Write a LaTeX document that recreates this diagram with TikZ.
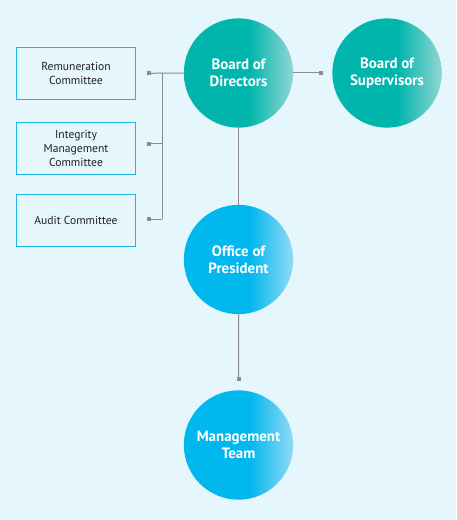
\documentclass[tikz,border=0pt]{standalone}
\usepackage{fontspec}
\setmainfont{PT Sans}
\definecolor{bgc}{HTML}{E6F6FD}
\definecolor{tealA}{HTML}{00B6AC}
\definecolor{tealB}{HTML}{92D6D3}
\definecolor{blueA}{HTML}{00B7EE}
\definecolor{blueB}{HTML}{92DAF6}
\definecolor{linec}{HTML}{8C8C8C}
\definecolor{boxc}{HTML}{1DB6EA}
\definecolor{txtc}{HTML}{231F20}
\pgfdeclarehorizontalshading{tealsh}{100bp}{color(0bp)=(tealA); color(55bp)=(tealA); color(75bp)=(tealB); color(100bp)=(tealB)}
\pgfdeclarehorizontalshading{bluesh}{100bp}{color(0bp)=(blueA); color(55bp)=(blueA); color(75bp)=(blueB); color(100bp)=(blueB)}
\tikzset{
  circ/.style={circle, minimum size=82pt, inner sep=0pt, text=white, align=center,
    font=\fontsize{11.2pt}{13pt}\selectfont\bfseries},
  tealcirc/.style={circ, shading=tealsh},
  bluecirc/.style={circ, shading=bluesh},
  combox/.style={draw=boxc, line width=0.8pt, minimum width=89.5pt, minimum height=39pt,
    inner sep=0pt, align=center, text=txtc, font=\fontsize{8.7pt}{10.5pt}\selectfont},
  conn/.style={draw=linec, line width=0.75pt},
  dotm/.style={fill=linec, minimum size=3.2pt, inner sep=0pt, rectangle}
}
\begin{document}
\begin{tikzpicture}[x=0.75pt,y=-0.75pt]
\fill[bgc] (0,0) rectangle (456,520);
\useasboundingbox (0,0) rectangle (456,520);
% circles
\node[tealcirc] (bod) at (238.5,73) {Board of\\Directors};
\node[tealcirc] (bos) at (387,73) {Board of\\Supervisors};
\node[bluecirc] (op) at (238.5,259.5) {Office of\\President};
\node[bluecirc] (mt) at (238.5,445) {Management\\Team};
% boxes
\node[combox] (rc) at (76,73.3) {Remuneration\\Committee};
\node[combox] (imc) at (76,148.3) {Integrity\\Management\\Committee};
\node[combox] (ac) at (76,220.3) {Audit Committee};
% markers and coordinates
\node[dotm] (m1) at (149,73.3) {};
\node[dotm] (m2) at (149,143.7) {};
\node[dotm] (m3) at (149,219) {};
\node[dotm] (m4) at (321,73) {};
\node[dotm] (m5) at (238.7,379) {};
\coordinate (b1) at (162.3,73.3);
\coordinate (b2) at (162.3,143.7);
\coordinate (b3) at (162.3,219);
% connectors
\draw[conn] (m1.center) -- (bod.west);
\draw[conn] (b1) -- (b3);
\draw[conn] (m2.center) -- (b2);
\draw[conn] (m3.center) -- (b3);
\draw[conn] (bod.east) -- (m4.center);
\draw[conn] (bod.south) -- (op.north);
\draw[conn] (op.south) -- (m5.center);
\end{tikzpicture}
\end{document}
